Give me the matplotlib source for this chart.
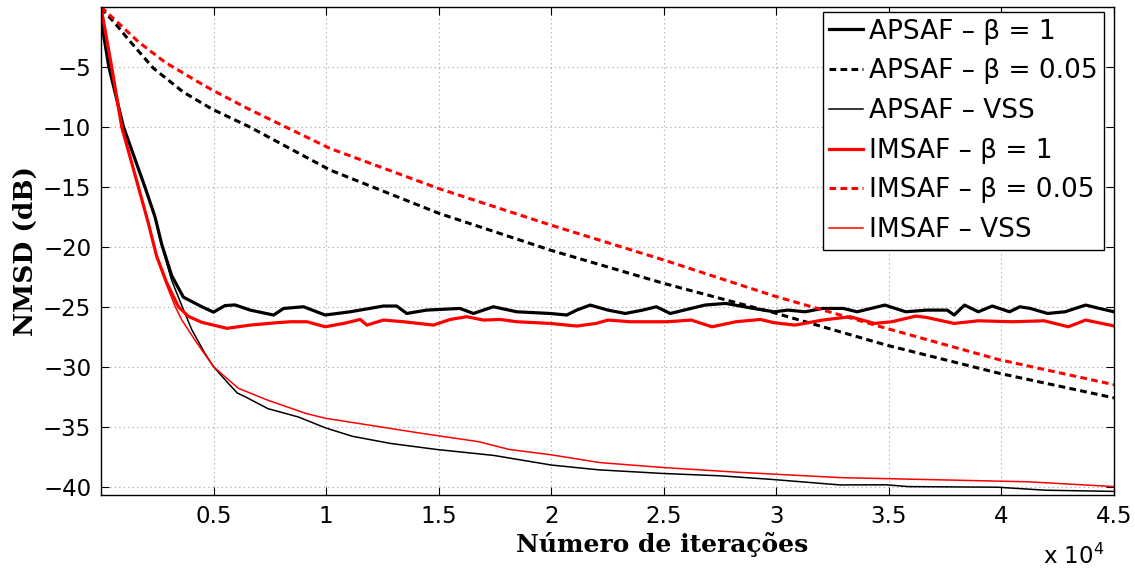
import numpy as np
import matplotlib
matplotlib.use('Agg')
import matplotlib.pyplot as plt

# APSAF - beta = 1 (thick black)
it_ap1 = [0, 350, 1000, 1950, 2400, 2700, 3140, 3660, 4480, 5000, 5510, 5960, 6630, 7670, 8110,
          9000, 9960, 11070, 12550, 13140, 13580, 14470, 15950, 16540, 17430, 18470, 19950,
          20690, 21130, 21730, 22520, 23290, 24060, 24670, 25290, 25900, 26830, 27750, 28980,
          29900, 30520, 31280, 32050, 32980, 33590, 34820, 35750, 36670, 37590, 37900, 38360,
          38970, 39590, 40360, 40820, 41280, 42050, 42820, 43740, 44360, 45000]
ap1 = [-1.0, -5.0, -10.0, -15.0, -17.5, -19.8, -22.4, -24.2, -25.0, -25.45, -24.9, -24.85, -25.28,
       -25.69, -25.14, -25.0, -25.69, -25.42, -24.94, -24.94, -25.56, -25.28, -25.14, -25.56,
       -25.0, -25.42, -25.56, -25.69, -25.28, -24.86, -25.28, -25.56, -25.28, -25.0, -25.56,
       -25.28, -24.86, -24.72, -25.14, -25.42, -25.28, -25.42, -25.14, -25.14, -25.42, -24.86,
       -25.42, -25.28, -25.28, -25.69, -24.86, -25.42, -24.94, -25.42, -25.0, -25.14, -25.56,
       -25.42, -24.86, -25.14, -25.42]

# APSAF - beta = 0.05 (dashed black)
it_ap005 = [0, 600, 1215, 2325, 3660, 4920, 6600, 10180, 15000, 20000, 25000, 29900, 34890, 39900, 45000]
ap005 = [-0.1, -1.3, -2.7, -5.1, -7.1, -8.5, -10.0, -13.6, -17.2, -20.3, -23.05, -25.5, -28.2,
         -30.55, -32.6]

# APSAF - VSS (thin black)
it_apv = [0, 350, 1000, 1950, 2400, 2700, 3140, 3590, 4030, 4620, 5000, 5660, 6060, 6400, 7420,
          8780, 9970, 11160, 12860, 14900, 17450, 20000, 22100, 24920, 27500, 29800, 32830,
          34890, 35870, 39820, 41960, 45000]
apv = [-1.0, -5.0, -10.0, -15.0, -17.6, -19.9, -22.8, -24.9, -26.9, -28.9, -30.0, -31.4, -32.2,
       -32.5, -33.5, -34.2, -35.1, -35.8, -36.4, -36.9, -37.4, -38.2, -38.6, -38.9, -39.1, -39.4,
       -39.86, -39.85, -40.0, -40.05, -40.3, -40.4]

# IMSAF - beta = 1 (thick red)
it_im1 = [0, 475, 920, 1660, 2100, 2475, 2920, 3440, 3880, 4480, 5000, 5590, 6630, 7810, 8410,
          9150, 9960, 10780, 11520, 11810, 12550, 13440, 14770, 15510, 16250, 16990, 17730,
          18470, 19950, 21130, 22000, 22520, 23520, 25140, 26220, 27140, 28210, 29290, 29900,
          30830, 32050, 33280, 34360, 35130, 36200, 36670, 37900, 38970, 40510, 41900, 42970,
          43740, 45000]
im1 = [0.0, -5.0, -10.0, -15.0, -18.0, -20.8, -23.0, -25.0, -25.8, -26.3, -26.53, -26.8, -26.53,
       -26.33, -26.25, -26.25, -26.67, -26.39, -26.06, -26.53, -26.11, -26.25, -26.53, -26.06,
       -25.83, -26.11, -26.06, -26.25, -26.39, -26.61, -26.39, -26.11, -26.25, -26.25, -26.11,
       -26.67, -26.25, -26.06, -26.33, -26.53, -26.11, -25.83, -26.39, -26.25, -25.78, -25.89,
       -26.39, -26.17, -26.25, -26.17, -26.67, -26.11, -26.6]

# IMSAF - beta = 0.05 (dashed red)
it_im005 = [0, 180, 1660, 2840, 4180, 4920, 6550, 10180, 15000, 20000, 25000, 29900, 34890, 39870, 45000]
im005 = [0.0, -0.3, -2.9, -4.6, -6.1, -6.9, -8.5, -11.8, -15.14, -18.2, -21.1, -24.1, -26.8, -29.4, -31.5]

# IMSAF - VSS (thin red)
it_imv = [0, 475, 920, 1660, 2100, 2475, 2920, 3300, 3590, 4180, 5000, 6100, 7420, 9110, 9970,
          11670, 14220, 16770, 18130, 20000, 22180, 24920, 28270, 32830, 37380, 41200, 45000]
imv = [0.0, -5.0, -10.0, -15.0, -18.0, -20.8, -23.2, -25.0, -26.1, -27.8, -30.0, -31.8, -32.8,
       -33.9, -34.3, -34.8, -35.55, -36.25, -36.9, -37.35, -38.0, -38.4, -38.8, -39.25, -39.44,
       -39.6, -40.0]

xticks = [5000, 10000, 15000, 20000, 25000, 30000, 35000, 40000, 45000]
xticklabels = ['0.5', '1', '1.5', '2', '2.5', '3', '3.5', '4', '4.5']
yticks = [-40, -35, -30, -25, -20, -15, -10, -5]

fig = plt.figure(figsize=(11.35, 5.72), dpi=100)
ax = fig.add_axes([101 / 1135, 1 - 495 / 572, 1013 / 1135, 488 / 572])

ax.plot(it_ap1, ap1, color='black', lw=2.3, label='APSAF – β = 1')
ax.plot(it_ap005, ap005, color='black', lw=2.2, dashes=(2.2, 1.4), label='APSAF – β = 0.05')
ax.plot(it_apv, apv, color='black', lw=1.1, label='APSAF – VSS')
ax.plot(it_im1, im1, color='red', lw=2.3, label='IMSAF – β = 1')
ax.plot(it_im005, im005, color='red', lw=2.2, dashes=(2.2, 1.4), label='IMSAF – β = 0.05')
ax.plot(it_imv, imv, color='red', lw=1.1, label='IMSAF – VSS')

ax.set_xlim(1, 45000)
ax.set_ylim(-40.7, 0)
ax.set_xticks(xticks)
ax.set_xticklabels(xticklabels)
ax.set_yticks(yticks)
ax.set_yticklabels(['\u2212%d' % abs(v) for v in yticks])
ax.tick_params(direction='in', top=True, right=True, length=6, width=0.8, labelsize=16.5, pad=7)
for lbl in ax.get_xticklabels() + ax.get_yticklabels():
    lbl.set_family('DejaVu Sans')
ax.grid(True, linestyle=(0, (1, 3)), color='#a0a0a0', lw=0.8)
for s in ax.spines.values():
    s.set_linewidth(1.0)

ax.set_ylabel('NMSD (dB)', fontsize=19, fontweight='bold', family='DejaVu Serif')
ax.yaxis.set_label_coords(-0.062, 0.5)
ax.set_xlabel('Número de iterações', fontsize=18, fontweight='bold', family='DejaVu Serif')
ax.xaxis.set_label_coords((662 - 101) / 1013, -0.075)
fig.text(1043 / 1135, 1 - 556 / 572, 'x 10$^4$', fontsize=16.5, family='DejaVu Sans', va='center')

leg = ax.legend(loc='upper right', bbox_to_anchor=(1104 / 1135, 1 - 12 / 572),
                bbox_transform=fig.transFigure, borderaxespad=0, fancybox=False,
                edgecolor='black', framealpha=1, prop={'family': 'DejaVu Sans', 'size': 19},
                handlelength=1.3, handletextpad=0.2, labelspacing=0.52, borderpad=0.25)
leg.get_frame().set_linewidth(1.0)

fig.savefig('out.png', dpi=100)
